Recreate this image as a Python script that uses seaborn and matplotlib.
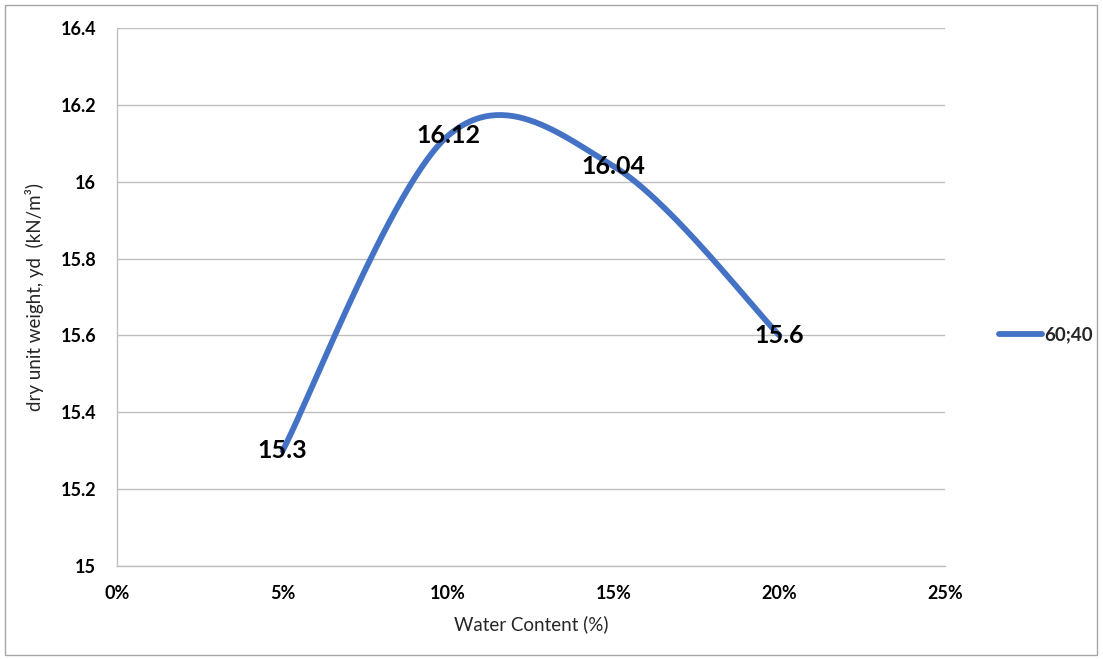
import numpy as np
import pandas as pd
import matplotlib
matplotlib.use("Agg")
import matplotlib.pyplot as plt
from matplotlib.patches import Rectangle
from matplotlib.ticker import FuncFormatter
import seaborn as sns

# Compaction test, mix 60;40
water_content = [0.05, 0.10, 0.15, 0.20]
dry_unit_weight = [15.3, 16.12, 16.04, 15.6]
series_name = "60;40"
x_ticks = [0.0, 0.05, 0.10, 0.15, 0.20, 0.25]
y_ticks = [15.0, 15.2, 15.4, 15.6, 15.8, 16.0, 16.2, 16.4]


def smooth_curve(xs, ys, n=60):
    """Cardinal (Catmull-Rom style) Bezier smoothing through every point."""
    pts = np.column_stack([xs, ys]).astype(float)
    ext = np.vstack([pts[0], pts, pts[-1]])
    out = []
    t = np.linspace(0, 1, n)[:, None]
    for i in range(len(pts) - 1):
        p0, p1, p2, p3 = ext[i], ext[i + 1], ext[i + 2], ext[i + 3]
        c1 = p1 + (p2 - p0) / 6.0
        c2 = p2 - (p3 - p1) / 6.0
        seg = ((1 - t) ** 3) * p1 + 3 * ((1 - t) ** 2) * t * c1 \
            + 3 * (1 - t) * t ** 2 * c2 + t ** 3 * p2
        out.append(seg if i == 0 else seg[1:])
    return np.vstack(out)


curve = smooth_curve(water_content, dry_unit_weight)
df = pd.DataFrame({"w": curve[:, 0], "gd": curve[:, 1], "mix": series_name})

sns.set_theme(style="white")
plt.rcParams["font.family"] = ["Lato", "DejaVu Sans"]

fig = plt.figure(figsize=(11.03, 6.59), dpi=100)
ax = fig.add_axes([117 / 1103, 1 - 566 / 659, (945 - 117) / 1103, (566 - 28) / 659])

blue = "#4472C4"
sns.lineplot(data=df, x="w", y="gd", hue="mix", palette=[blue], sort=False,
             estimator=None, linewidth=4.2, ax=ax, legend=True)

for x, y in zip(water_content, dry_unit_weight):
    ax.text(x, y, f"{y:g}", ha="center", va="center", fontsize=18,
            fontweight="bold", color="black", zorder=5)

ax.set_xlim(0, 0.25)
ax.set_ylim(15.0, 16.4)
ax.set_xticks(x_ticks)
ax.set_yticks(y_ticks)
ax.xaxis.set_major_formatter(FuncFormatter(lambda v, p: f"{v * 100:.0f}%"))
ax.yaxis.set_major_formatter(FuncFormatter(lambda v, p: f"{v:g}"))
ax.tick_params(axis="both", length=0, labelsize=13, colors="black")
ax.tick_params(axis="x", pad=14)
ax.tick_params(axis="y", pad=15)
for lab in ax.get_xticklabels() + ax.get_yticklabels():
    lab.set_fontweight("bold")

ax.yaxis.grid(True, color="#BFBFBF", linewidth=1.0)
ax.xaxis.grid(False)
for side in ["top", "right"]:
    ax.spines[side].set_visible(False)
for side in ["left", "bottom"]:
    ax.spines[side].set_color("#BFBFBF")
    ax.spines[side].set_linewidth(1.0)

ax.set_xlabel("Water Content (%)", fontsize=13.5, labelpad=9)
ax.set_ylabel("dry unit weight, yd  (kN/m\u00b3)", fontsize=13.5, labelpad=12)

leg = ax.legend(loc="center left", bbox_to_anchor=(1.045, 0.43), frameon=False,
                handlelength=2.3, handletextpad=0.1, fontsize=13.5)
for t in leg.get_texts():
    t.set_fontweight("bold")
for h in leg.get_lines():
    h.set_linewidth(4.2)

fig.patches.append(Rectangle((5 / 1103, 4 / 659), 1092 / 1103, 650 / 659,
                             transform=fig.transFigure, fill=False,
                             edgecolor="#A6A6A6", linewidth=1.0))

fig.savefig("out.png", dpi=100)
